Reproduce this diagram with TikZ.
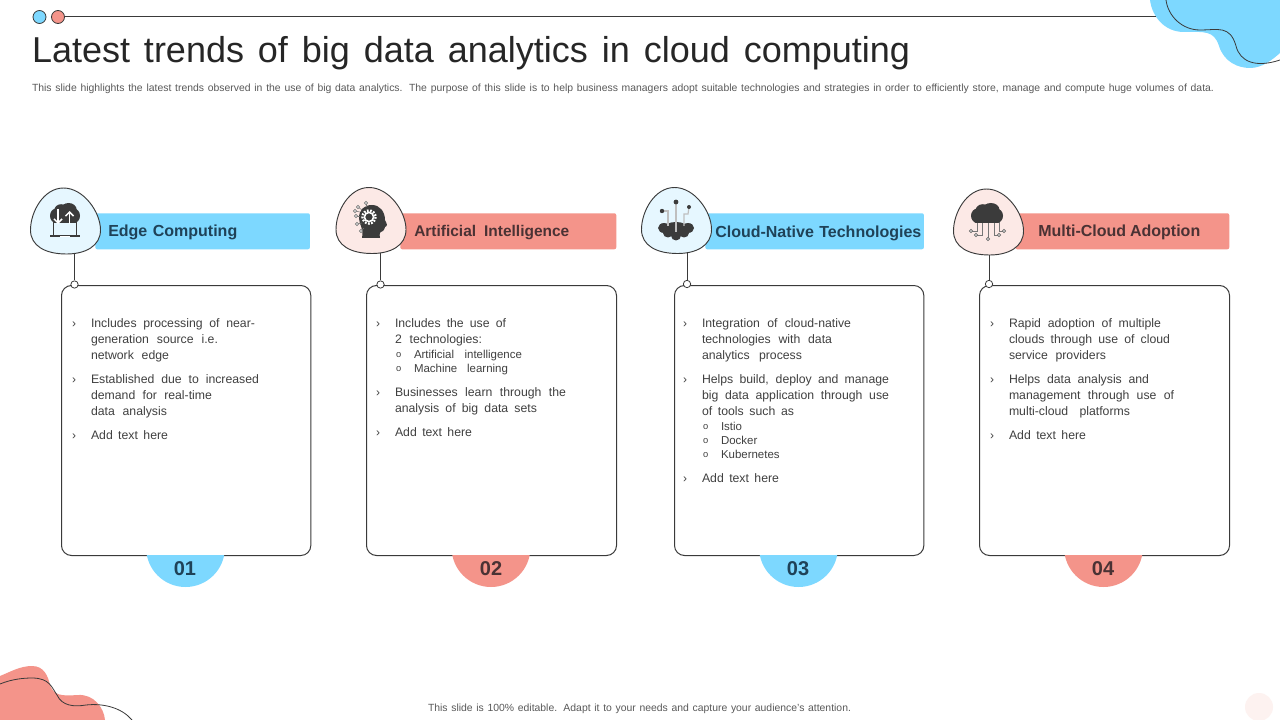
\documentclass[tikz,border=0pt]{standalone}
\usepackage{fontspec}
\usetikzlibrary{arrows.meta}
\setmainfont{Liberation Sans}
\definecolor{cblue}{HTML}{7DD8FF}
\definecolor{cred}{HTML}{F4948A}
\definecolor{pblue}{HTML}{E6F7FF}
\definecolor{pred}{HTML}{FCE9E6}
\definecolor{cline}{HTML}{3A3A3A}
\definecolor{ctext}{HTML}{404040}
\definecolor{csub}{HTML}{595959}
\definecolor{cicon}{HTML}{3B3B3B}
\definecolor{hblue}{HTML}{1F4258}
\definecolor{hred}{HTML}{4A3234}
\newlength\pxu \pxu=0.75pt
\newcounter{tn}
% one line of text, stretched to the reference width: x, baseline y, width px, size pt, text
\newcommand\tl[5]{\stepcounter{tn}\node[txt] (t\arabic{tn}) at (#1,#2) {\fontsize{#4}{#4}\selectfont\makebox[#3\pxu][s]{#5}};}
\newcommand\bul[2]{\stepcounter{tn}\node[txt] (t\arabic{tn}) at (#1,#2) {\fontsize{9}{9}\selectfont ›};}
\newcommand\subbul[2]{\stepcounter{tn}\node[txt] (t\arabic{tn}) at (#1,#2) {\fontsize{7}{7}\selectfont o};}
\newcommand\blob[3]{% x, y, fill
  \draw[blobline,fill=#3,shift={(#1,#2)}] (33,0) .. controls (53,0) and (70,24) .. (70,42) .. controls (70,58) and (55,66) .. (36,66) .. controls (15,66) and (0,58) .. (0,42) .. controls (0,24) and (13,0) .. (33,0);}
\newcommand\cloud[5]{% left x, bottom y, w, h, colour: puffy cloud
  \fill[#5,rounded corners=1.5pt] (#1+.1*#3,#2) rectangle (#1+.9*#3,#2-.5*#4);
  \fill[#5] (#1+.2*#3,#2-.36*#4) ellipse[x radius=.2*#3,y radius=.36*#4];
  \fill[#5] (#1+.8*#3,#2-.36*#4) ellipse[x radius=.2*#3,y radius=.36*#4];
  \fill[#5] (#1+.37*#3,#2-.62*#4) ellipse[x radius=.23*#3,y radius=.32*#4];
  \fill[#5] (#1+.62*#3,#2-.66*#4) ellipse[x radius=.27*#3,y radius=.34*#4];
}
\tikzset{
  txt/.style={anchor=base west,inner sep=0pt,outer sep=0pt,text=ctext},
  blobline/.style={draw=cline,line width=.7pt},
  cardbox/.style={draw=cline,line width=.75pt,fill=white,rounded corners=7.5pt,anchor=north west,inner sep=0pt,minimum width=187pt,minimum height=202.5pt},
  barbox/.style={rounded corners=1.5pt,anchor=north west,inner sep=0pt,minimum height=27pt},
  headtxt/.style={anchor=base west,inner sep=0pt,font=\fontsize{12}{13}\selectfont\bfseries},
  numtxt/.style={anchor=center,inner sep=0pt,font=\fontsize{15}{15}\selectfont\bfseries},
  pin/.style={circle,draw=cline,line width=.6pt,fill=white,inner sep=0pt,minimum size=5.5pt},
  conn/.style={draw=cline,line width=.75pt},
}
\begin{document}
\begin{tikzpicture}[x=0.75pt,y=-0.75pt]
\useasboundingbox (0,0) rectangle (1280,720);
\fill[white] (0,0) rectangle (1280,720);
% corner decoration
\fill[cblue] (1150,0) .. controls (1152,16) and (1164,32) .. (1184,32) .. controls (1204,32) and (1214,30) .. (1219,46) .. controls (1224,62) and (1238,68) .. (1250,68) .. controls (1262,68) and (1272,60) .. (1280,53) -- (1280,0) -- cycle;
\draw[cline,line width=.6pt] (1166,0) .. controls (1168,16) and (1182,30) .. (1200,30) .. controls (1218,30) and (1230,25) .. (1236,46) .. controls (1240,62) and (1256,68) .. (1280,60);
\fill[cred] (0,676) .. controls (10,672) and (20,666) .. (32,666) .. controls (44,666) and (48,676) .. (50,685) .. controls (54,696) and (62,696) .. (78,695) .. controls (94,694) and (104,708) .. (105,720) -- (0,720) -- cycle;
\draw[cline,line width=.6pt] (0,684) .. controls (12,679) and (24,678) .. (32,678) .. controls (50,678) and (52,688) .. (57,695) .. controls (62,706) and (74,707) .. (86,705) .. controls (104,703) and (122,708) .. (132,720);
\fill[pred!60!white] (1259,707) circle (14);
% top line
\coordinate (ls) at (64,16); \coordinate (le) at (1156,16);
\draw[cline,line width=.6pt] (ls) -- (le);
\node[circle,draw=cline,line width=.6pt,fill=cblue,inner sep=0pt,minimum size=9.75pt] (dotA) at (39.5,17) {};
\node[circle,draw=cline,line width=.6pt,fill=cred,inner sep=0pt,minimum size=9.75pt] (dotB) at (58,17) {};
% title
\node[txt,text=black!85] (title) at (32,63) {\fontsize{27}{27}\selectfont\makebox[878\pxu][s]{Latest trends of big data analytics in cloud computing}};
\tikzset{txt/.append style={text=csub}}
\tl{32}{91.5}{1182}{7.8}{This slide highlights the latest trends observed in the use of big data analytics. The purpose of this slide is to help business managers adopt suitable technologies and strategies in order to efficiently store, manage and compute huge volumes of data.}
\tl{428}{711.5}{423}{7.8}{This slide is 100\% editable. Adapt it to your needs and capture your audience's attention.}
\tikzset{txt/.append style={text=ctext}}
% bars
\node[barbox,fill=cblue,minimum width=161pt] (bar1) at (95,213) {};
\node[barbox,fill=cred,minimum width=162pt] (bar2) at (400,213) {};
\node[barbox,fill=cblue,minimum width=164pt] (bar3) at (705,213) {};
\node[barbox,fill=cred,minimum width=160.5pt] (bar4) at (1015,213) {};
% cards
\node[cardbox] (c1) at (61,285) {};
\node[cardbox,minimum width=187.5pt] (c2) at (366,285) {};
\node[cardbox] (c3) at (674,285) {};
\node[cardbox,minimum width=187.5pt] (c4) at (979,285) {};
% number tabs
\foreach \cx/\col in {185.5/cblue,491/cred,798.5/cblue,1103.5/cred}{
  \begin{scope}
    \clip (\cx-50,555.4) rectangle (\cx+50,600);
    \fill[\col] (\cx,547.6) circle (39.4);
  \end{scope}}
\node[numtxt,text=hblue] (n1) at (185,568.5) {01};
\node[numtxt,text=hred] (n2) at (491,568.5) {02};
\node[numtxt,text=hblue] (n3) at (798,568.5) {03};
\node[numtxt,text=hred] (n4) at (1103,568.5) {04};
% connectors
\coordinate (b1) at (74.5,250); \coordinate (b2) at (380.5,250); \coordinate (b3) at (687,250); \coordinate (b4) at (989,251);
\node[pin] (d1) at (74.5,284.5) {};
\node[pin] (d2) at (380.5,284.5) {};
\node[pin] (d3) at (687,284) {};
\node[pin] (d4) at (989,284) {};
\draw[conn] (b1) -- (d1);
\draw[conn] (b2) -- (d2);
\draw[conn] (b3) -- (d3);
\draw[conn] (b4) -- (d4);
% blobs
\blob{30.5}{188}{pblue}
\blob{336}{187.5}{pred}
\blob{641.5}{187.5}{pblue}
\blob{953.5}{189}{pred}
% headings
\node[headtxt,text=hblue] (h1) at (108,237) {\makebox[129\pxu][s]{Edge Computing}};
\node[headtxt,text=hred,font=\fontsize{11.6}{13}\selectfont\bfseries] (h2) at (414,237) {\makebox[155\pxu][s]{Artificial Intelligence}};
\node[headtxt,text=hblue] (h3) at (715,238) {\makebox[206\pxu][s]{Cloud-Native Technologies}};
\node[headtxt,text=hred] (h4) at (1038,237) {\makebox[162\pxu][s]{Multi-Cloud Adoption}};
% card 1
\bul{72}{327}\tl{91}{327}{164}{9.2}{Includes processing of near-}
\tl{91}{343}{127}{9.2}{generation source i.e.}
\tl{91}{359}{78}{9.2}{network edge}
\bul{72}{383}\tl{91}{383}{168}{9.2}{Established due to increased}
\tl{91}{399}{121}{9.2}{demand for real-time}
\tl{91}{415}{76}{9.2}{data analysis}
\bul{72}{439}\tl{91}{439}{77}{9.2}{Add text here}
% card 2
\bul{376}{327}\tl{395}{327}{111}{9.2}{Includes the use of}
\tl{395}{343}{87}{9.2}{2 technologies:}
\subbul{396}{357}\tl{414}{358}{108}{8.6}{Artificial intelligence}
\subbul{396}{371}\tl{414}{372}{94}{8.6}{Machine learning}
\bul{376}{396}\tl{395}{396}{171}{9.2}{Businesses learn through the}
\tl{395}{412}{142}{9.2}{analysis of big data sets}
\bul{376}{436}\tl{395}{436}{77}{9.2}{Add text here}
% card 3
\bul{683}{327}\tl{702}{327}{149}{9.2}{Integration of cloud-native}
\tl{702}{343}{130}{9.2}{technologies with data}
\tl{702}{359}{100}{9.2}{analytics process}
\bul{683}{383}\tl{702}{383}{187}{9.2}{Helps build, deploy and manage}
\tl{702}{399}{187}{9.2}{big data application through use}
\tl{702}{415}{92}{9.2}{of tools such as}
\subbul{703}{429}\tl{721}{430}{23}{8.6}{Istio}
\subbul{703}{443}\tl{721}{444}{39}{8.6}{Docker}
\subbul{703}{457}\tl{721}{458}{63}{8.6}{Kubernetes}
\bul{683}{482}\tl{702}{482}{77}{9.2}{Add text here}
% card 4
\bul{990}{327}\tl{1009}{327}{152}{9.2}{Rapid adoption of multiple}
\tl{1009}{343}{161}{9.2}{clouds through use of cloud}
\tl{1009}{359}{97}{9.2}{service providers}
\bul{990}{383}\tl{1009}{383}{140}{9.2}{Helps data analysis and}
\tl{1009}{399}{165}{9.2}{management through use of}
\tl{1009}{415}{121}{9.2}{multi-cloud platforms}
\bul{990}{439}\tl{1009}{439}{77}{9.2}{Add text here}
% icon 1: laptop with cloud
\draw[cicon,line width=1pt] (53.5,236) -- (53.5,219) -- (76.5,219) -- (76.5,236);
\cloud{50}{223}{30}{20}{cicon}
\fill[cicon] (50,235) rectangle (80,237.5);
\fill[white] (60,236) rectangle (70,236.8);
\draw[white,line width=1.1pt,-{Straight Barb[length=3pt,width=6pt]}] (58,209) -- (58,224);
\draw[white,line width=1.1pt,-{Straight Barb[length=3pt,width=6pt]}] (69.5,224) -- (69.5,211);
% icon 2: head with gear
\fill[cicon] (362,238) -- (380,238) .. controls (379,233) and (380,232) .. (383,231) .. controls (385,230) and (384,228) .. (385,227) .. controls (388,226) and (387,224) .. (385,220) .. controls (385,212) and (380,205) .. (372,205) .. controls (364,205) and (359,210) .. (359,218) .. controls (359,225) and (364,228) .. (362,238) -- cycle;
\draw[white,line width=1.7pt,dash pattern=on 1.3pt off 1.1pt] (369,217) circle (6.6);
\draw[white,line width=1.2pt] (369,217) circle (4.6);
\fill[cicon] (369,217) circle (1.3);
\foreach \px/\py/\qx/\qy in {356/216/360/216,358/207/362/210,366/203/366/207,357/224/362/223,361/231/364/228,355/211/360/212}{
  \draw[cicon!70!white,line width=.4pt] (\px,\py) -- (\qx,\qy);
  \draw[cicon!70!white,line width=.5pt,fill=white] (\px,\py) circle (1.6);
}
% icon 3: cloud with pins
\fill[cicon] (676,229) ellipse[x radius=13,y radius=7];
\fill[cicon] (664,228) ellipse[x radius=6,y radius=5];
\fill[cicon] (688,228) ellipse[x radius=6,y radius=5];
\fill[cicon] (668,233) ellipse[x radius=5,y radius=4.5];
\fill[cicon] (684,233) ellipse[x radius=5,y radius=4.5];
\fill[cicon] (676,235.5) circle (5);
\draw[gray!50,line width=.9pt] (676,202) -- (676,232);
\draw[gray!50,line width=.9pt] (662,211) -- (668,211) -- (668,226);
\draw[gray!50,line width=.9pt] (689,207) -- (688,214) -- (684,214) -- (684,226);
\fill[cicon] (676,202) circle (2.4) (662,211) circle (2.2) (689,207) circle (2);
% icon 4: cloud with wires
\foreach \px/\py/\qx/\qy/\rx in {971/231/977/231/977,976/235/982/235/982,988/239/988/239/988,999/235/994/235/994,1004/231/999/231/999}{
  \draw[cicon!70!white,line width=.5pt] (\rx,222) -- (\qx,\qy) -- (\px,\py);
  \draw[cicon!80!white,line width=.5pt,fill=white] (\px,\py) circle (1.6);
}
\cloud{971}{223}{32}{20}{cicon}
\end{tikzpicture}
\end{document}
